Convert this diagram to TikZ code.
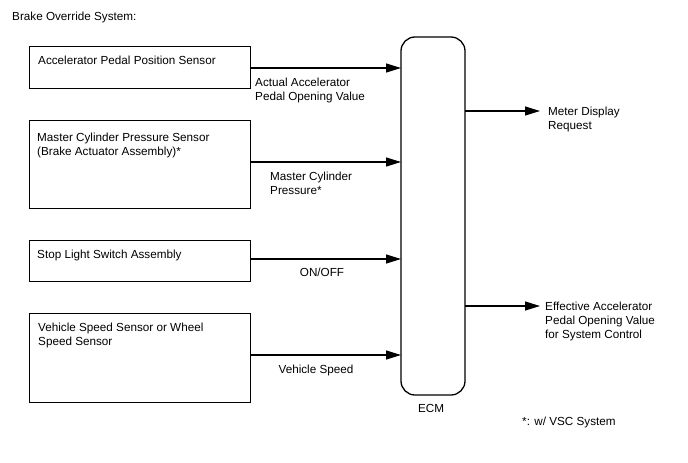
\documentclass[tikz,border=0pt]{standalone}
\usepackage{fontspec}
\setmainfont{Liberation Sans}
\usetikzlibrary{arrows.meta}
\begin{document}
\begin{tikzpicture}[x=1pt,y=-1pt,
  every node/.style={font=\fontsize{11.7}{14}\selectfont, inner sep=0pt},
  lbl/.style={anchor=base west, align=left},
  sbox/.style={draw, line width=1.3pt, minimum width=221pt, anchor=north west, inner sep=0pt},
  conn/.style={line width=1.3pt, -{Triangle[length=15pt,width=9pt]}}]
\useasboundingbox (0,0) rectangle (688,463);
\node[lbl] (title) at (12,20) {Brake Override System:};
% sensor boxes
\node[sbox, minimum height=42pt] (b1) at (29,46) {};
\node[sbox, minimum height=88pt] (b2) at (29,120) {};
\node[sbox, minimum height=41pt] (b3) at (29,240) {};
\node[sbox, minimum height=89pt] (b4) at (29,313) {};
% multi-line nodes: anchor base = baseline of last line
\node[lbl] (t1) at (38,64) {Accelerator Pedal Position Sensor};
\node[lbl] (t2) at (37,155) {Master Cylinder Pressure Sensor\\(Brake Actuator Assembly)*};
\node[lbl] (t3) at (37,258) {Stop Light Switch Assembly};
\node[lbl] (t4) at (38,345) {Vehicle Speed Sensor or Wheel\\Speed Sensor};
% ECM
\draw[line width=1.3pt, rounded corners=14pt] (401,37) rectangle (465,395);
\node[draw=none, minimum width=64pt, minimum height=358pt, anchor=north west] (ecm) at (401,37) {};
\node[anchor=base] (ecml) at (431,412) {ECM};
% input connectors
\coordinate (e1) at (401,68);
\coordinate (e2) at (401,162);
\coordinate (e3) at (401,259);
\coordinate (e4) at (401,355);
\draw[conn] (b1.east |- e1) -- (e1);
\draw[conn] (b2.east |- e2) -- (e2);
\draw[conn] (b3.east |- e3) -- (e3);
\draw[conn] (b4.east |- e4) -- (e4);
\node[lbl] (l1) at (255,100) {Actual Accelerator\\Pedal Opening Value};
\node[lbl] (l2) at (270,194) {Master Cylinder\\Pressure*};
\node[anchor=base] (l3) at (322,276) {ON/OFF};
\node[anchor=base] (l4) at (316,373) {Vehicle Speed};
% outputs
\coordinate (o1) at (540,111);
\coordinate (o2) at (540,306);
\draw[conn] (ecm.east |- o1) -- (o1);
\draw[conn] (ecm.east |- o2) -- (o2);
\node[lbl] (r1) at (548,129) {Meter Display\\Request};
\node[lbl] (r2) at (545,338) {Effective Accelerator\\Pedal Opening Value\\for System Control};
\node[lbl] (fn) at (522,425) {*: w/ VSC System};
\end{tikzpicture}
\end{document}
